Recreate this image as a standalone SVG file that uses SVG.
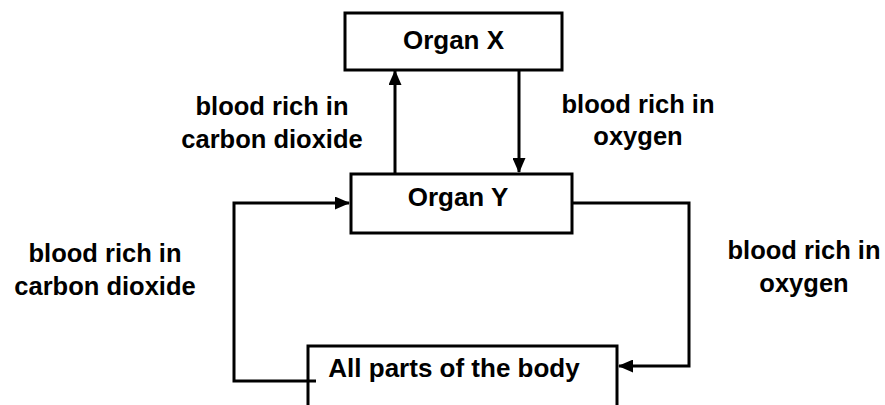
<svg xmlns="http://www.w3.org/2000/svg" width="885" height="405" viewBox="0 0 885 405">
<style>
.box{fill:#fff;stroke:#000;stroke-width:3}
.t{font-family:"Liberation Sans",Arial,sans-serif;font-weight:bold;font-size:26px;fill:#000;text-anchor:middle}
.l{font-family:"Liberation Sans",Arial,sans-serif;font-weight:bold;font-size:25.5px;fill:#000;text-anchor:middle}
.c{fill:none;stroke:#000;stroke-width:3}
</style>
<defs>
<marker id="ah" markerUnits="userSpaceOnUse" markerWidth="15" markerHeight="13" refX="14" refY="6.5" orient="auto">
<path d="M0,0 L15,6.5 L0,13 Z" fill="#000"/>
</marker>
</defs>
<rect width="885" height="405" fill="#fff"/>
<g id="organ-x">
<rect class="box" x="345" y="13" width="217" height="57"/>
<text class="t" x="453.5" y="49">Organ X</text>
</g>
<g id="organ-y">
<rect class="box" x="351" y="174" width="221" height="59"/>
<text class="t" x="458" y="206">Organ Y</text>
</g>
<g id="body">
<rect class="box" x="308" y="346" width="309" height="70"/>
<text class="t" x="454" y="377">All parts of the body</text>
</g>
<g id="connectors">
<path class="c" d="M395,173 V71" marker-end="url(#ah)"/>
<path class="c" d="M519,71 V172" marker-end="url(#ah)"/>
<path class="c" d="M316,381 H234 V203 H349" marker-end="url(#ah)"/>
<path class="c" d="M573,203 H689 V366 H619" marker-end="url(#ah)"/>
</g>
<g id="labels">
<text class="l" x="272" y="115">blood rich in</text>
<text class="l" x="272" y="148">carbon dioxide</text>
<text class="l" x="638" y="113">blood rich in</text>
<text class="l" x="638" y="145">oxygen</text>
<text class="l" x="105" y="262">blood rich in</text>
<text class="l" x="105" y="295">carbon dioxide</text>
<text class="l" x="804" y="259">blood rich in</text>
<text class="l" x="804" y="292">oxygen</text>
</g>
</svg>
